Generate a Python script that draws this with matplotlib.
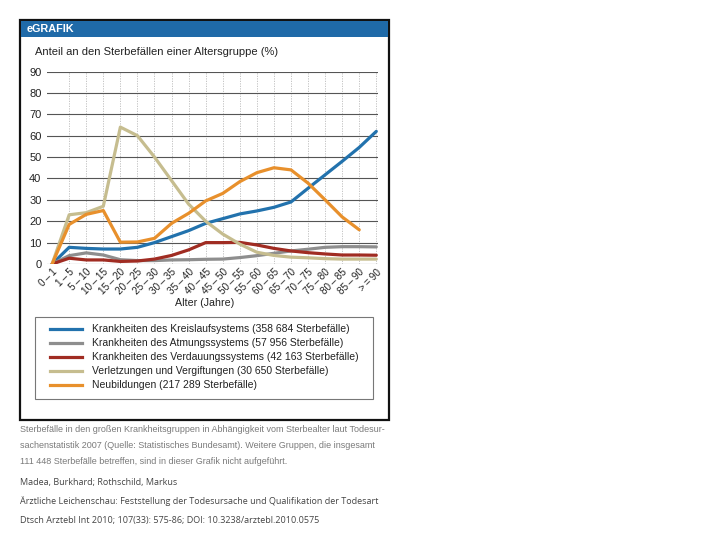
import matplotlib
matplotlib.use("Agg")
import matplotlib.pyplot as plt
from matplotlib.patches import Rectangle
from matplotlib.lines import Line2D

plt.rcParams['font.family'] = ['Liberation Sans', 'DejaVu Sans']

T = "\u2009"
age_groups = ["0–1", "1–5", "5–10", "10–15", "15–20", "20–25", "25–30",
              "30–35", "35–40", "40–45", "45–50", "50–55", "55–60",
              "60–65", "65–70", "70–75", "75–80", "80–85", "85–90", ">=90"]
age_groups = [g.replace("–", T + "–" + T).replace(">=", ">" + T + "=" + T) for g in age_groups]

kreislauf = [0, 7.8, 7.3, 7.0, 7.0, 7.8, 10.0, 12.8, 15.6, 19.0,
             21.2, 23.4, 24.8, 26.5, 29.0, 35.4, 41.7, 48.0, 54.5, 62.0]
atmung = [0, 3.9, 5.2, 4.2, 2.0, 1.6, 1.6, 1.9, 2.0, 2.2,
          2.3, 3.0, 3.9, 5.0, 6.1, 6.9, 7.8, 8.1, 8.1, 8.0]
verdauung = [0, 2.7, 1.9, 1.9, 1.2, 1.4, 2.3, 4.0, 6.6, 10.0,
             10.0, 10.1, 8.9, 7.3, 6.1, 5.3, 4.7, 4.2, 4.2, 4.1]
verletzung = [0, 23.0, 24.0, 27.0, 64.0, 60.0, 50.0, 39.0, 28.0, 20.0,
              14.0, 9.3, 5.5, 4.0, 3.2, 2.9, 2.5, 2.3, 2.3, 2.3]
neubildung = [0, 18.5, 23.2, 25.0, 10.2, 10.3, 12.0, 19.0, 23.7, 29.5,
              33.0, 38.5, 42.7, 45.0, 44.0, 37.8, 30.0, 22.0, 16.0]

series_labels = ["Krankheiten des Kreislaufsystems (358 684 Sterbefälle)",
                 "Krankheiten des Atmungssystems (57 956 Sterbefälle)",
                 "Krankheiten des Verdauungssystems (42 163 Sterbefälle)",
                 "Verletzungen und Vergiftungen (30 650 Sterbefälle)",
                 "Neubildungen (217 289 Sterbefälle)"]
series_colors = ["#2272ad", "#8e8e8e", "#a02c22", "#c6bd8f", "#e8902c"]

y_ticks = [0, 10, 20, 30, 40, 50, 60, 70, 80, 90]

W, H = 720, 540
fig = plt.figure(figsize=(7.2, 5.4), dpi=100)
fig.patch.set_facecolor("white")

def fx(x):
    return x / W

def fy(y):
    return 1 - y / H

# outer frame
fig.add_artist(Rectangle((fx(20), fy(420)), fx(389) - fx(20), fy(20) - fy(420),
                         transform=fig.transFigure, facecolor="white",
                         edgecolor="#111111", linewidth=1.6, zorder=0))
# header band
fig.add_artist(Rectangle((fx(21), fy(37)), fx(388) - fx(21), fy(21) - fy(37),
                         transform=fig.transFigure, facecolor="#1f6aa8",
                         edgecolor="none", zorder=1))
fig.text(fx(27), fy(29), "eGRAFIK", color="white", fontsize=7.8,
         fontweight="bold", va="center", ha="left")
fig.text(fx(35), fy(52), "Anteil an den Sterbefällen einer Altersgruppe (%)",
         color="#222222", fontsize=8.0, va="center", ha="left")

# main axes
ax = fig.add_axes([fx(47), fy(264), fx(378) - fx(47), fy(71.5) - fy(264)])
x = list(range(len(age_groups)))
ax.set_xlim(-0.3, 19.1)
ax.set_ylim(0, 90)
for v in y_ticks:
    ax.axhline(v, color="#555555", linewidth=0.8, zorder=1)
for i in x[1:]:
    ax.axvline(i, color="#bbbbbb", linewidth=0.6, linestyle=(0, (1.5, 1.5)), zorder=0)

data = [kreislauf, atmung, verdauung, verletzung, neubildung]
order = [3, 1, 2, 4, 0]
for k in order:
    vals = data[k]
    ax.plot(x[:len(vals)], vals, color=series_colors[k], linewidth=2.3,
            solid_joinstyle="round", solid_capstyle="round", zorder=3 + k * 0.1)

for s in ax.spines.values():
    s.set_visible(False)
ax.set_yticks(y_ticks)
ax.set_yticklabels([str(v) for v in y_ticks], fontsize=8.0, color="#222222")
ax.tick_params(axis="y", length=0, pad=4)
ax.set_xticks(x)
ax.set_xticklabels(age_groups, rotation=45, ha="right", rotation_mode="anchor",
                   fontsize=7.2, color="#222222")
ax.tick_params(axis="x", length=0, pad=2)
ax.set_facecolor("none")

fig.text(fx(205), fy(303), "Alter (Jahre)", fontsize=7.7, color="#222222",
         ha="center", va="center")

# legend box
fig.add_artist(Rectangle((fx(35), fy(399)), fx(373) - fx(35), fy(317) - fy(399),
                         transform=fig.transFigure, facecolor="white",
                         edgecolor="#777777", linewidth=0.8, zorder=1))
rows = [329, 343, 357, 371, 385]
for k, yy in enumerate(rows):
    fig.add_artist(Line2D([fx(50), fx(82)], [fy(yy), fy(yy)], transform=fig.transFigure,
                          color=series_colors[k], linewidth=2.3, zorder=2))
    fig.text(fx(92), fy(yy), series_labels[k], fontsize=7.45, color="#222222",
             ha="left", va="center")

caption = ["Sterbefälle in den großen Krankheitsgruppen in Abhängigkeit vom Sterbealter laut Todesur-",
           "sachenstatistik 2007 (Quelle: Statistisches Bundesamt). Weitere Gruppen, die insgesamt",
           "111 448 Sterbefälle betreffen, sind in dieser Grafik nicht aufgeführt."]
for i, line in enumerate(caption):
    fig.text(fx(20), fy(430 + 16 * i), line, fontsize=6.45, color="#7a7a7a",
             ha="left", va="center")

citation = ["Madea, Burkhard; Rothschild, Markus",
            "Ärztliche Leichenschau: Feststellung der Todesursache und Qualifikation der Todesart",
            "Dtsch Arztebl Int 2010; 107(33): 575-86; DOI: 10.3238/arztebl.2010.0575"]
for i, line in enumerate(citation):
    fig.text(fx(20), fy(482 + 19 * i), line, fontsize=6.5, color="#444444",
             ha="left", va="center", family=["Open Sans", "DejaVu Sans"])

fig.savefig("out.png", dpi=100, facecolor="white")
